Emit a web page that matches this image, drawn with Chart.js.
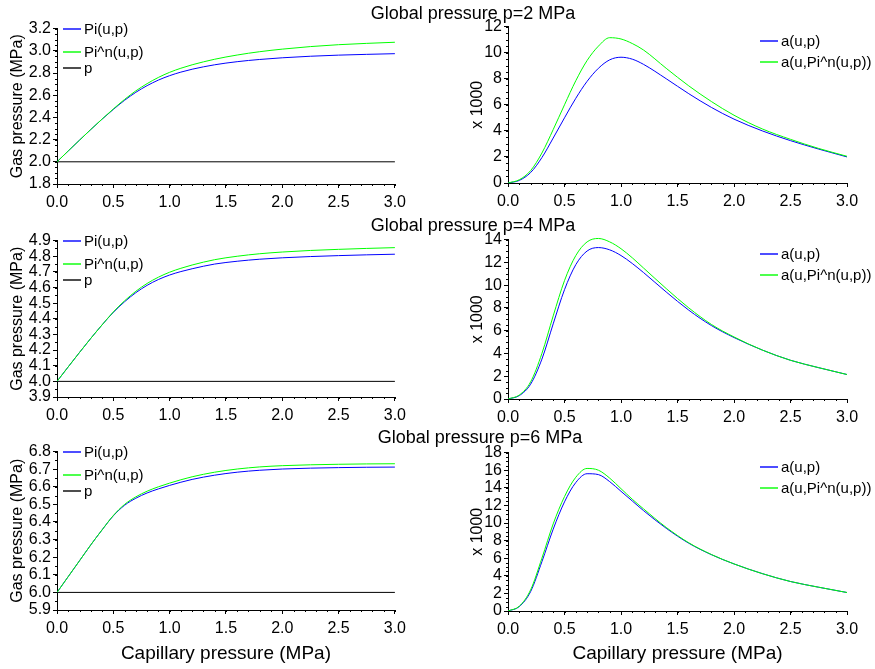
<!DOCTYPE html>
<html>
<head>
<meta charset="utf-8">
<script src="https://cdn.jsdelivr.net/npm/chart.js@4.4.1/dist/chart.umd.min.js"></script>
<style>
  body { margin: 0; background: #fff; width: 875px; height: 669px; position: relative; overflow: hidden;
         font-family: "Liberation Sans", Arial, sans-serif; }
  canvas { position: absolute; }
  .ttl { position: absolute; width: 400px; text-align: center; font-size: 18px; line-height: 20px;
         color: #000; white-space: nowrap; z-index: 2; }
</style>
</head>
<body>
<div class="ttl" style="left:273px; top:3px;">Global pressure p=2 MPa</div>
<div class="ttl" style="left:273px; top:215px;">Global pressure p=4 MPa</div>
<div class="ttl" style="left:280px; top:427px;">Global pressure p=6 MPa</div>

<canvas id="gas2" width="411" height="197" style="left:0px; top:17px;"></canvas>
<canvas id="rate2" width="435" height="198" style="left:440px; top:15px;"></canvas>
<canvas id="gas4" width="411" height="198" style="left:0px; top:229px;"></canvas>
<canvas id="rate4" width="435" height="201" style="left:440px; top:228px;"></canvas>
<canvas id="gas6" width="411" height="225" style="left:0px; top:440px;"></canvas>
<canvas id="rate6" width="435" height="225" style="left:440px; top:441px;"></canvas>

<script>
// capillary pressure u (MPa), shared by every curve
const capillary = [0, 0.1, 0.2, 0.3, 0.4, 0.5, 0.6, 0.7, 0.8, 0.9, 1.0, 1.1, 1.2, 1.4, 1.6, 1.8, 2.0, 2.25, 2.5, 2.75, 3.0];
const globalU = [0, 3.0];

// gas pressure Pi(u,p) and Pi^n(u,p), MPa
const pi2  = [2.000, 2.098, 2.195, 2.291, 2.384, 2.472, 2.554, 2.626, 2.686, 2.736, 2.776, 2.808, 2.834, 2.874, 2.902, 2.922, 2.937, 2.951, 2.961, 2.968, 2.974];
const piN2 = [2.000, 2.098, 2.195, 2.291, 2.385, 2.476, 2.562, 2.639, 2.704, 2.760, 2.806, 2.843, 2.874, 2.924, 2.962, 2.992, 3.015, 3.038, 3.055, 3.067, 3.077];
const pi4  = [4.000, 4.093, 4.185, 4.275, 4.361, 4.441, 4.509, 4.567, 4.614, 4.651, 4.680, 4.702, 4.720, 4.750, 4.768, 4.781, 4.790, 4.798, 4.804, 4.809, 4.813];
const piN4 = [4.000, 4.093, 4.185, 4.275, 4.361, 4.444, 4.515, 4.576, 4.626, 4.666, 4.698, 4.723, 4.744, 4.778, 4.800, 4.816, 4.827, 4.837, 4.844, 4.850, 4.855];
const pi6  = [6.000, 6.090, 6.180, 6.270, 6.355, 6.435, 6.495, 6.535, 6.565, 6.588, 6.608, 6.626, 6.642, 6.666, 6.683, 6.694, 6.701, 6.706, 6.709, 6.711, 6.712];
const piN6 = [6.000, 6.090, 6.180, 6.270, 6.355, 6.437, 6.500, 6.543, 6.575, 6.600, 6.621, 6.640, 6.657, 6.683, 6.701, 6.713, 6.720, 6.725, 6.728, 6.730, 6.731];
const p2 = [2, 2];
const p4 = [4, 4];
const p6 = [6, 6];

// a(u,p) and a(u,Pi^n(u,p)), x 1000
const a2  = [0, 0.2, 0.8, 1.95, 3.45, 5.0, 6.5, 7.8, 8.8, 9.45, 9.65, 9.5, 9.1, 8.0, 6.85, 5.8, 4.9, 4.0, 3.25, 2.6, 2.0];
const aN2 = [0, 0.25, 0.95, 2.3, 4.1, 6.0, 7.85, 9.4, 10.5, 11.15, 11.05, 10.7, 10.2, 8.8, 7.45, 6.25, 5.2, 4.15, 3.35, 2.65, 2.05];
const a4  = [0, 0.3, 1.3, 3.5, 6.6, 9.6, 11.8, 13.0, 13.3, 13.1, 12.6, 11.9, 11.1, 9.4, 7.8, 6.45, 5.4, 4.3, 3.4, 2.75, 2.15];
const aN4 = [0, 0.35, 1.5, 4.0, 7.3, 10.4, 12.6, 13.8, 14.1, 13.8, 13.2, 12.4, 11.5, 9.7, 8.0, 6.55, 5.45, 4.3, 3.4, 2.75, 2.15];
const a6  = [0, 0.5, 2.2, 5.6, 9.3, 12.4, 14.6, 15.6, 15.5, 14.7, 13.6, 12.5, 11.4, 9.4, 7.7, 6.4, 5.35, 4.25, 3.35, 2.7, 2.1];
const aN6 = [0, 0.55, 2.4, 6.0, 9.9, 13.0, 15.2, 16.2, 16.0, 15.1, 13.9, 12.7, 11.6, 9.5, 7.75, 6.42, 5.35, 4.25, 3.35, 2.7, 2.1];

// tick labels
const xTicks = [0, 0.5, 1.0, 1.5, 2.0, 2.5, 3.0];
const gasTicks2 = [1.8, 2.0, 2.2, 2.4, 2.6, 2.8, 3.0, 3.2];
const gasTicks4 = [3.9, 4.0, 4.1, 4.2, 4.3, 4.4, 4.5, 4.6, 4.7, 4.8, 4.9];
const gasTicks6 = [5.9, 6.0, 6.1, 6.2, 6.3, 6.4, 6.5, 6.6, 6.7, 6.8];
const rateTicks2 = [0, 2, 4, 6, 8, 10, 12];
const rateTicks4 = [0, 2, 4, 6, 8, 10, 12, 14];
const rateTicks6 = [0, 2, 4, 6, 8, 10, 12, 14, 16, 18];

const FONT = '"Liberation Sans", Arial, sans-serif';
const BLUE = '#0000ff';
const GREEN = '#00ff00';

// small ticks between the labelled ones
const minorTicks = {
  id: 'minorTicks',
  afterDraw(chart, args, opts) {
    const ctx = chart.ctx;
    ctx.save();
    ctx.strokeStyle = '#000';
    ctx.lineWidth = 1;
    ['x', 'y'].forEach(id => {
      const s = chart.scales[id];
      const step = opts[id];
      const n = Math.round((s.max - s.min) / step);
      for (let i = 0; i <= n; i++) {
        const p = Math.round(s.getPixelForValue(s.min + i * step)) + 0.5;
        ctx.beginPath();
        if (id === 'x') { ctx.moveTo(p, s.top); ctx.lineTo(p, s.top + 2); }
        else { ctx.moveTo(s.right, p); ctx.lineTo(s.right - 2, p); }
        ctx.stroke();
      }
    });
    ctx.restore();
  }
};

// legend drawn inside the plot area like the original
const lineLegend = {
  id: 'lineLegend',
  afterDraw(chart, args, opts) {
    const { ctx, chartArea } = chart;
    ctx.save();
    ctx.font = '15px ' + FONT;
    ctx.textBaseline = 'middle';
    chart.data.datasets.forEach((ds, i) => {
      const x = chartArea.left + opts.x;
      const y = Math.round(chartArea.top + opts.rows[i]);
      ctx.strokeStyle = ds.borderColor;
      ctx.lineWidth = 1.4;
      ctx.beginPath();
      ctx.moveTo(x, y);
      ctx.lineTo(x + 18, y);
      ctx.stroke();
      ctx.fillStyle = '#000';
      ctx.fillText(ds.label, x + 21, y + 1);
    });
    ctx.restore();
  }
};

function toPoints(us, vs) {
  return us.map((u, i) => ({ x: u, y: vs[i] }));
}

function makeChart(id, spec) {
  new Chart(document.getElementById(id), {
    type: 'line',
    data: {
      datasets: spec.series.map(s => ({
        label: s.label,
        data: toPoints(s.u, s.v),
        borderColor: s.color,
        borderWidth: 1,
        pointRadius: 0,
        fill: false,
        clip: 6,
        cubicInterpolationMode: 'monotone',
        order: s.order
      }))
    },
    plugins: [minorTicks, lineLegend],
    options: {
      responsive: false,
      animation: false,
      events: [],
      layout: { padding: { top: 10, right: spec.padRight, left: 0, bottom: 0 } },
      plugins: {
        legend: { display: false },
        tooltip: { enabled: false },
        minorTicks: { x: 0.1, y: spec.yMinor },
        lineLegend: { x: spec.legendX, rows: spec.legendRows }
      },
      scales: {
        x: {
          type: 'linear', min: 0, max: 3,
          afterBuildTicks: s => { s.ticks = xTicks.map(v => ({ value: v })); },
          afterFit: s => { s.height = spec.xHeight; },
          ticks: { color: '#000', font: { family: FONT, size: 16 }, padding: 5, maxRotation: 0,
                   autoSkip: false, callback: v => v.toFixed(1) },
          grid: { drawOnChartArea: false, tickLength: 4, color: '#000' },
          border: { color: '#000' },
          title: spec.xTitle
            ? { display: true, text: 'Capillary pressure (MPa)', color: '#000',
                font: { family: FONT, size: 19 }, padding: { top: 0, bottom: spec.xTitlePad } }
            : { display: false }
        },
        y: {
          type: 'linear', min: spec.yTicks[0], max: spec.yTicks[spec.yTicks.length - 1],
          afterBuildTicks: s => { s.ticks = spec.yTicks.map(v => ({ value: v })); },
          afterFit: s => { s.width = spec.yWidth; },
          ticks: { color: '#000', font: { family: FONT, size: 16 }, padding: 2, autoSkip: false,
                   callback: v => v.toFixed(spec.yDigits) },
          grid: { drawOnChartArea: false, tickLength: 4, color: '#000' },
          border: { color: '#000' },
          title: { display: true, text: spec.yTitle, color: '#000',
                   font: { family: FONT, size: 16 }, padding: { top: spec.yTitlePad, bottom: 0 } }
        }
      }
    }
  });
}

function gasSpec(pi, piN, p, ticks, extra) {
  return Object.assign({
    series: [
      { label: 'Pi(u,p)', u: capillary, v: pi, color: BLUE, order: 1 },
      { label: 'Pi^n(u,p)', u: capillary, v: piN, color: GREEN, order: 0 },
      { label: 'p', u: globalU, v: p, color: '#000', order: 2 }
    ],
    yTicks: ticks, yDigits: 1, yMinor: 0.05, yWidth: 57, padRight: 15,
    yTitle: 'Gas pressure (MPa)', yTitlePad: 8,
    legendX: 6, legendRows: [0, 23, 39],
    xHeight: 30, xTitle: false, xTitlePad: 0
  }, extra || {});
}

function rateSpec(a, aN, ticks, extra) {
  return Object.assign({
    series: [
      { label: 'a(u,p)', u: capillary, v: a, color: BLUE, order: 1 },
      { label: 'a(u,Pi^n(u,p))', u: capillary, v: aN, color: GREEN, order: 0 }
    ],
    yTicks: ticks, yDigits: 0, yMinor: 0.5, yWidth: 68, padRight: 28,
    yTitle: 'x 1000', yTitlePad: 28,
    legendX: 252, legendRows: [14, 35],
    xHeight: 30, xTitle: false, xTitlePad: 0
  }, extra || {});
}

makeChart('gas2', gasSpec(pi2, piN2, p2, gasTicks2));
makeChart('rate2', rateSpec(a2, aN2, rateTicks2));
makeChart('gas4', gasSpec(pi4, piN4, p4, gasTicks4));
makeChart('rate4', rateSpec(a4, aN4, rateTicks4));
makeChart('gas6', gasSpec(pi6, piN6, p6, gasTicks6, { xHeight: 55, xTitle: true, xTitlePad: 0 }));
makeChart('rate6', rateSpec(a6, aN6, rateTicks6, { xHeight: 55, xTitle: true, xTitlePad: 1 }));
</script>
</body>
</html>
